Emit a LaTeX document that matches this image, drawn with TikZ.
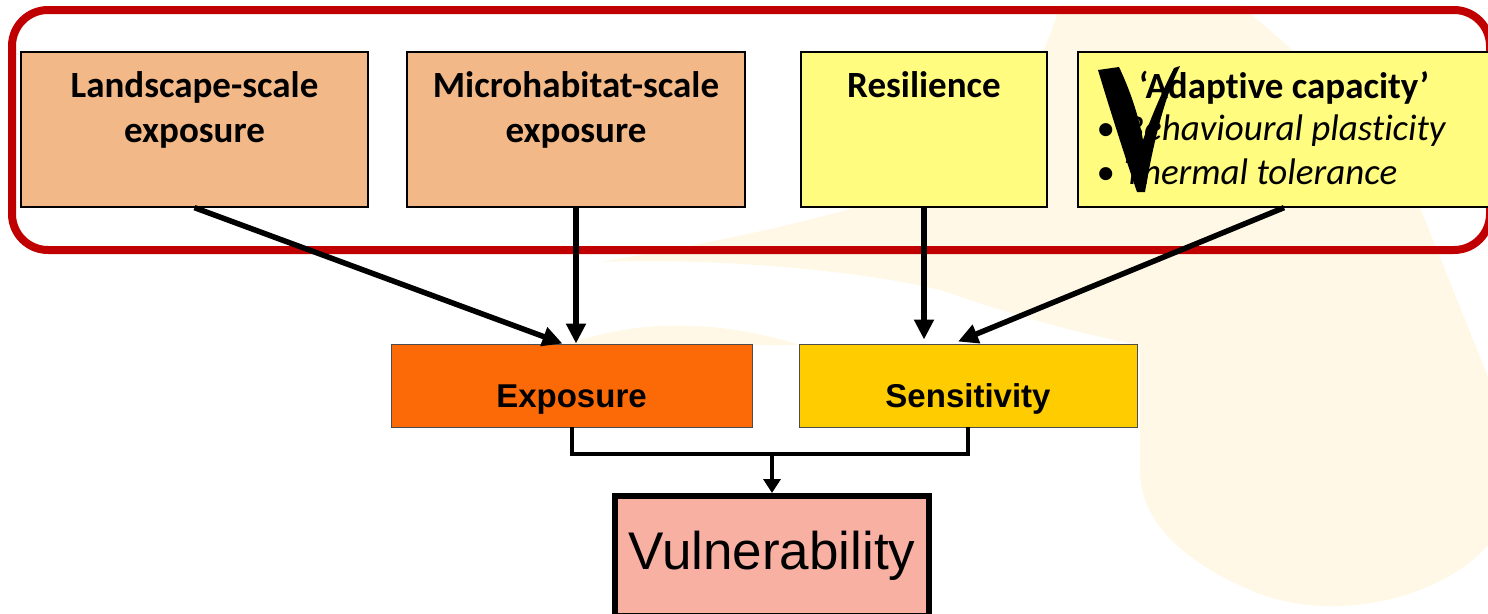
\documentclass[tikz,border=0pt]{standalone}
\usepackage{fontspec}
\setmainfont{Carlito}[Ligatures={TeX,NoCommon}]
\newfontfamily\arialfont{Liberation Sans}
\usetikzlibrary{arrows.meta}
\usetikzlibrary{positioning}
\definecolor{cream}{HTML}{FFF8E7}
\definecolor{framered}{HTML}{C00000}
\definecolor{peach}{HTML}{F2B887}
\definecolor{lemon}{HTML}{FFFC80}
\definecolor{expo}{HTML}{FC6A08}
\definecolor{gold}{HTML}{FFCC00}
\definecolor{salmon}{HTML}{F8B0A2}

\begin{document}
\begin{tikzpicture}[x=1pt,y=-1pt,every node/.style={inner sep=0pt},
    topbox/.style={draw,line width=1.3pt,minimum height=155pt,minimum width=#1},
    midbox/.style={draw=black!70,line width=0.9pt,minimum height=83pt,minimum width=#1,
        text height=50pt,text depth=7pt,font=\arialfont\bfseries\fontsize{33}{38}\selectfont},
    title/.style={font=\bfseries\fontsize{37}{45}\selectfont,align=center},
    link/.style={line width=5.5pt,-{Triangle[length=20pt,width=19pt]}},
    bus/.style={line width=4pt}]
    \useasboundingbox (0,0) rectangle (1488,613);
    \clip (0,0) rectangle (1488,613);
    % background
    \fill[cream] (1060,5) -- (1240,5) .. controls (1330,80) and (1390,140) .. (1417,200)
        -- (1488,377) -- (1488,545) .. controls (1440,600) and (1330,625) .. (1250,590)
        .. controls (1180,560) and (1140,520) .. (1140,470) -- (1140,345)
        .. controls (1060,330) and (1000,310) .. (940,290) .. controls (850,268) and (700,258) .. (600,262)
        .. controls (700,245) and (800,225) .. (880,200) .. controls (960,170) and (1030,110) .. cycle;
    \fill[cream] (565,345) .. controls (640,318) and (720,320) .. (800,345) -- cycle;
    \draw[framered,line width=8pt,rounded corners=36pt] (12,10) rectangle (1490,250);
    %boxes
    \node[topbox=347pt,fill=peach] (land) at (194.5,129.5) {};
    \node[topbox=338pt,fill=peach] (micro) at (576,129.5) {};
    \node[topbox=246pt,fill=lemon] (resil) at (924,129.5) {};
    \node[topbox=412pt,fill=lemon] (adapt) at (1284,129.5) {};
    \node[title,below=20pt of land.north] (landtxt) {Landscape-scale\\exposure};
    \node[title,below=20pt of micro.north] (microtxt) {Microhabitat-scale\\exposure};
    \node[title,below=20pt of resil.north] (resiltxt) {Resilience};
    \node[title,below=20pt of adapt.north] (adapttxt) {`Adaptive capacity'};
    \node[below right=63pt and 19pt of adapt.north west,align=left,font=\fontsize{37}{44}\selectfont] (traits)
        {\textbullet\hspace{9pt}\textit{Behavioural plasticity}\\\textbullet\hspace{9pt}\textit{Thermal tolerance}};
    \fill (1098,70) .. controls (1110,110) and (1126,160) .. (1137,192) -- (1145,192)
        .. controls (1152,150) and (1163,100) .. (1180,66) -- (1174,68)
        .. controls (1162,92) and (1152,115) .. (1143,140)
        .. controls (1138,112) and (1128,86) .. (1119,67) -- cycle;
    \node[midbox=361pt,fill=expo] (expo) at (571.5,385.5) {Exposure};
    \node[midbox=338pt,fill=gold] (sens) at (968,385.5) {Sensitivity};
    \node[draw,line width=6pt,fill=salmon,minimum width=314pt,minimum height=120pt,
        font=\arialfont\fontsize{53}{60}\selectfont] (vul) at (772,556) {Vulnerability};
    %links
    \draw[link] (land.south) -- ([xshift=-9pt]expo.north);
    \draw[link] (micro.south) -- (micro.south |- expo.north);
    \draw[link] (resil.south) -- ([yshift=4pt]resil.south |- sens.north);
    \draw[link] (adapt.south) -- ([xshift=-10pt,yshift=2pt]sens.north);
    \coordinate (split) at (772,454);
    \draw[bus] (expo.south) |- (split) -| (sens.south);
    \draw[bus,-{Triangle[length=14pt,width=17pt]}] (split) -- (vul.north);
\end{tikzpicture}
\end{document}
